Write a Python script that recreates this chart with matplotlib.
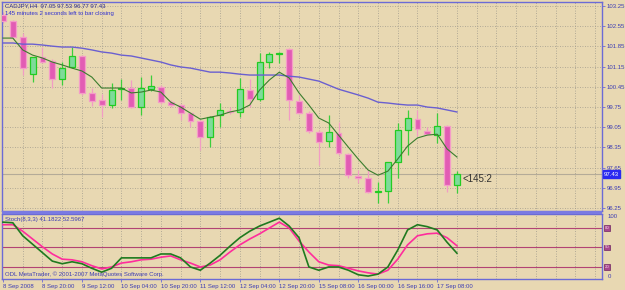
#CADJPY H4 chart with moving averages and a Stochastic(8,3,3) window, MetaTrader style#
import matplotlib
matplotlib.use('Agg')
import matplotlib.pyplot as plt
from matplotlib.patches import Rectangle

plt.rcParams['font.family'] = ['Liberation Sans', 'DejaVu Sans']

#price data, one value per H4 bar#
opens = [102.95, 102.72, 102.18, 100.89, 101.48, 101.34, 100.72, 101.14, 101.52, 100.24,
         99.99, 99.82, 100.37, 100.41, 99.75, 100.37, 100.44, 99.92, 99.82, 99.54,
         99.27, 98.71, 99.47, 99.62, 99.58, 100.34, 100.03, 101.31, 101.60, 101.76,
         99.96, 99.54, 98.88, 98.57, 98.85, 98.12, 97.36, 97.29, 96.82, 96.84,
         97.84, 98.95, 99.33, 98.92, 98.78, 99.09, 97.05]
highs = [103.05, 102.78, 102.31, 101.48, 101.83, 101.40, 101.31, 101.83, 101.55, 100.40,
         100.20, 100.58, 100.72, 100.69, 100.79, 100.86, 100.50, 100.00, 99.85, 99.58,
         99.30, 99.45, 99.89, 99.75, 100.76, 100.72, 101.62, 101.66, 101.66, 101.80,
         100.17, 99.60, 98.95, 99.47, 99.23, 98.16, 97.57, 97.57, 97.15, 97.84,
         99.20, 99.65, 99.65, 99.06, 99.54, 99.12, 97.53]
lows = [102.65, 102.12, 100.86, 100.62, 101.28, 100.41, 100.51, 101.10, 100.17, 99.80,
        99.40, 99.72, 99.99, 99.72, 99.47, 100.30, 99.85, 99.75, 99.30, 99.06,
        98.26, 98.36, 99.06, 99.50, 99.40, 99.75, 99.95, 101.10, 101.27, 99.30,
        99.50, 98.85, 97.74, 98.36, 98.10, 97.29, 97.12, 96.78, 96.42, 96.42,
        97.29, 98.09, 98.75, 98.78, 98.50, 96.81, 96.77]
closes = [102.72, 102.18, 101.10, 101.48, 101.31, 100.72, 101.10, 101.52, 100.24, 99.96,
          99.82, 100.34, 100.40, 99.75, 100.41, 100.48, 99.92, 99.82, 99.54, 99.27,
          98.71, 99.40, 99.65, 99.58, 100.37, 100.03, 101.31, 101.59, 101.62, 99.99,
          99.54, 98.92, 98.54, 98.88, 98.16, 97.39, 97.29, 96.81, 96.86, 97.84,
          98.95, 99.37, 98.99, 98.81, 99.09, 97.05, 97.43]

#moving averages as drawn on the chart#
slowMA = [101.97, 101.97, 101.93, 101.93, 101.90, 101.86, 101.83, 101.83, 101.79, 101.73,
          101.66, 101.62, 101.55, 101.52, 101.45, 101.38, 101.31, 101.21, 101.14, 101.10,
          101.03, 100.96, 100.96, 100.93, 100.89, 100.86, 100.86, 100.86, 100.86, 100.82,
          100.79, 100.72, 100.65, 100.51, 100.37, 100.27, 100.17, 100.06, 99.92, 99.89,
          99.85, 99.82, 99.82, 99.75, 99.72, 99.65, 99.58]
fastMA = [102.14, 102.14, 101.73, 101.55, 101.45, 101.31, 101.21, 101.10, 101.00, 100.79,
          100.41, 100.41, 100.41, 100.24, 100.27, 100.34, 100.27, 99.92, 99.75, 99.54,
          99.33, 99.40, 99.47, 99.58, 99.65, 99.82, 100.34, 100.69, 100.96, 100.76,
          100.24, 99.82, 99.37, 99.20, 98.78, 98.36, 97.95, 97.57, 97.39, 97.53,
          97.95, 98.40, 98.68, 98.78, 98.81, 98.30, 98.02]

#stochastic main and signal lines#
stochK = [89, 88, 68, 55, 42, 29, 25, 28, 25, 18, 12, 18, 34, 34, 34, 34, 40, 40, 34, 20,
          15, 26, 38, 52, 65, 75, 83, 89, 95, 83, 65, 20, 15, 20, 20, 15, 8, 6, 9, 20,
          46, 77, 85, 82, 77, 58, 41.18]
stochD = [85, 85, 75, 63, 51, 40, 32, 31, 28, 22, 17, 20, 26, 28, 31, 32, 35, 37, 31, 26,
          20, 23, 31, 43, 54, 63, 71, 80, 89, 80, 60, 43, 28, 23, 22, 18, 14, 11, 9, 15,
          32, 54, 68, 71, 72, 65, 52.60]
stochLevels = [80, 50, 20]

priceTicks = [103.25, 102.55, 101.85, 101.15, 100.45, 99.75, 99.05, 98.35, 97.65, 96.95, 96.25]
dateLabels = ['8 Sep 2008', '8 Sep 20:00', '9 Sep 12:00', '10 Sep 04:00', '10 Sep 20:00',
              '11 Sep 12:00', '12 Sep 04:00', '12 Sep 20:00', '15 Sep 08:00', '16 Sep 00:00',
              '16 Sep 16:00', '17 Sep 08:00']
dateBars = [0, 4, 8, 12, 16, 20, 24, 28, 32, 36, 40, 44]
lastPrice = 97.43

#colours#
bg = '#e8d8b2'
frame = '#6b6bd6'
txt = '#3c3cb4'
grid = '#a09a8c'

W, H = 625.0, 290.0
fig = plt.figure(figsize=(6.25, 2.9), dpi=100)
fig.patch.set_facecolor(bg)
ax = fig.add_axes([2/W, 1-211/H, 600/W, 209/H])
ax2 = fig.add_axes([2/W, 1-279/H, 600/W, 65/H], sharex=ax)

n = len(closes)
xs = list(range(n))
for a in (ax, ax2):
    a.set_facecolor(bg)
    for s in a.spines.values():
        s.set_color(frame)
        s.set_linewidth(1.0)
    for gx in range(2, 61, 2):
        a.axvline(gx, color=grid, lw=0.6, ls=(0, (1, 2)), zorder=0)
ax.set_xlim(-0.1, 60.7)

#candles#
for i in xs:
    o, h, l, c = opens[i], highs[i], lows[i], closes[i]
    up = c >= o
    wick = '#3ccf3c' if up else '#f29cc4'
    ax.vlines(i, l, h, color=wick, lw=0.9, zorder=2)
    body = max(abs(c - o), 0.012)
    if up:
        ax.bar(i, body, bottom=min(o, c), width=0.6, color='#7edb9a',
               edgecolor='#22cc22', lw=0.9, zorder=3)
    else:
        ax.bar(i, body, bottom=min(o, c), width=0.6, color='#e25cb4',
               edgecolor='#f59cc8', lw=0.9, zorder=3)

ax.plot(xs, slowMA, color='#6a5fd0', lw=1.0, zorder=4)
ax.plot(xs, fastMA, color='#3a7d2e', lw=0.8, zorder=4)
ax.axhline(lastPrice, color='#b4ab98', lw=0.8, zorder=1)

for p in priceTicks:
    ax.axhline(p, color=grid, lw=0.6, ls=(0, (1, 2)), zorder=0)
ax.set_ylim(96.15, 103.39)
ax.yaxis.tick_right()
ax.set_yticks(priceTicks)
ax.set_yticklabels(['%.2f' % p for p in priceTicks])
ax.tick_params(axis='y', colors=frame, labelcolor=txt, labelsize=4.3, length=2, width=0.6, pad=1.5)
ax.tick_params(axis='x', bottom=False, labelbottom=False)
ax.text(1.003, lastPrice, '%.2f' % lastPrice, transform=ax.get_yaxis_transform(),
        fontsize=4.3, color='white', va='center', ha='left',
        bbox=dict(facecolor='#2a2af0', edgecolor='#2a2af0', pad=0.8))
ax.text(n - 1 + 0.6, 97.26, '<145:2', fontsize=7, color='#303030', va='center', ha='left', zorder=5)

#stochastic window#
for lev in stochLevels:
    ax2.axhline(lev, color='#b24474', lw=0.8, zorder=1)
    ax2.text(1.004, lev, str(lev), transform=ax2.get_yaxis_transform(), fontsize=3.2,
             color='#f6d0ea', va='center', ha='left',
             bbox=dict(facecolor='#a8478e', edgecolor='#6e2462', pad=0.6, lw=0.5))
ax2.plot(xs, stochD, color='#ff2c9c', lw=1.2, zorder=3)
ax2.plot(xs, stochK, color='#1f7a1f', lw=1.2, zorder=4)
ax2.set_ylim(1.5, 101.5)
ax2.set_yticks([])
ax2.text(1.01, 101.5, '100', transform=ax2.get_yaxis_transform(), fontsize=4.3, color=txt, va='top', ha='left')
ax2.text(1.01, 1.5, '0', transform=ax2.get_yaxis_transform(), fontsize=4.3, color=txt, va='bottom', ha='left')
ax2.set_xticks(dateBars)
ax2.set_xticklabels(dateLabels, ha='left')
ax2.tick_params(axis='x', colors=frame, labelcolor=txt, labelsize=4.3, length=2, width=0.6, pad=1.5)

#separator band between the two windows#
fig.add_artist(Rectangle((2/W, 1-214/H), 600/W, 3/H, transform=fig.transFigure,
                         facecolor='#7a7ae2', edgecolor='none'))

#header texts#
fig.text(5/W, 1-6/H, 'CADJPY,H4  97.05 97.53 96.77 97.43', fontsize=4.3, color='#2a2a90', va='center')
fig.text(5/W, 1-14/H, '145 minutes 2 seconds left to bar closing', fontsize=4.3, color='#3030d0', va='center')
fig.text(5/W, 1-219/H, 'Stoch(8,3,3) 41.1822 52.5967', fontsize=4.3, color=txt, va='center')
fig.text(5/W, 1-274/H, 'ODL MetaTrader, \u00a9 2001-2007 MetaQuotes Software Corp.', fontsize=4.3,
         color=txt, va='center')

fig.savefig('out.png', dpi=100, facecolor=bg)
